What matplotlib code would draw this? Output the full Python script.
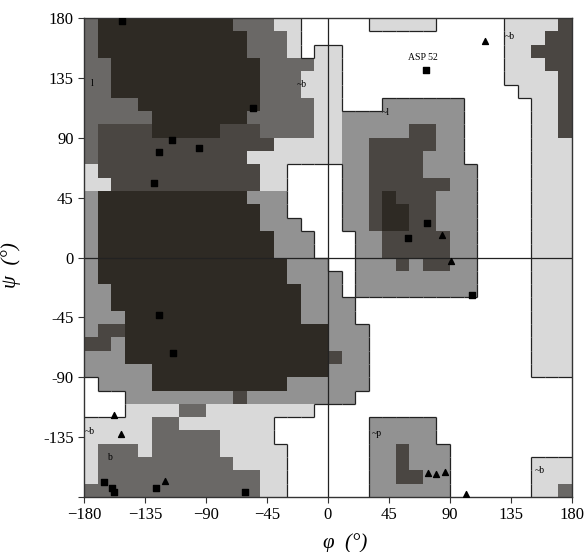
import numpy as np
import matplotlib
matplotlib.use('Agg')
import matplotlib.pyplot as plt
from matplotlib.colors import ListedColormap, BoundaryNorm
from matplotlib.collections import LineCollection

# region map as runs of (level, number of 10 degree cells) along phi = -180..180,
# one row per 10 degrees of psi, from psi=180 down to psi=-180
# levels: 0 white, 1 light, 2 medium, 3 dark grey, 4 darker, 5 core
region_runs = [
    [(3, 1), (5, 10), (3, 3), (1, 2), (0, 5), (1, 5), (0, 5), (1, 4), (4, 1)],
    [(3, 1), (5, 11), (3, 3), (1, 1), (0, 15), (1, 3), (4, 2)],
    [(3, 1), (5, 11), (3, 3), (1, 1), (0, 1), (1, 2), (0, 12), (1, 2), (4, 3)],
    [(3, 2), (5, 11), (3, 4), (1, 2), (0, 12), (1, 3), (4, 2)],
    [(3, 2), (5, 11), (3, 3), (1, 3), (0, 12), (1, 4), (4, 1)],
    [(3, 2), (5, 11), (3, 3), (1, 3), (0, 13), (1, 3), (4, 1)],
    [(3, 4), (5, 9), (3, 4), (1, 2), (0, 3), (2, 6), (0, 5), (1, 2), (4, 1)],
    [(3, 5), (5, 7), (3, 5), (1, 2), (2, 9), (0, 5), (1, 2), (4, 1)],
    [(3, 1), (4, 4), (5, 5), (4, 3), (3, 4), (1, 2), (2, 5), (4, 2), (2, 2), (0, 5), (1, 2), (4, 1)],
    [(3, 1), (4, 13), (1, 5), (2, 2), (4, 5), (2, 2), (0, 5), (1, 3)],
    [(3, 1), (4, 11), (1, 7), (2, 2), (4, 4), (2, 3), (0, 5), (1, 3)],
    [(1, 1), (4, 12), (1, 2), (0, 4), (2, 2), (4, 4), (2, 4), (0, 4), (1, 3)],
    [(1, 2), (4, 11), (1, 2), (0, 4), (2, 2), (4, 6), (2, 2), (0, 4), (1, 3)],
    [(2, 1), (5, 11), (2, 3), (0, 4), (2, 2), (4, 1), (5, 1), (4, 3), (2, 3), (0, 4), (1, 3)],
    [(2, 1), (5, 12), (2, 2), (0, 4), (2, 2), (4, 1), (5, 2), (4, 2), (2, 3), (0, 4), (1, 3)],
    [(2, 1), (5, 12), (2, 3), (0, 3), (2, 2), (4, 1), (5, 2), (4, 2), (2, 3), (0, 4), (1, 3)],
    [(2, 1), (5, 13), (2, 3), (0, 3), (2, 2), (4, 5), (2, 2), (0, 4), (1, 3)],
    [(2, 1), (5, 13), (2, 3), (0, 3), (2, 2), (4, 5), (2, 2), (0, 4), (1, 3)],
    [(2, 1), (5, 14), (2, 3), (0, 2), (2, 3), (4, 1), (2, 1), (4, 2), (2, 2), (0, 4), (1, 3)],
    [(2, 1), (5, 14), (2, 4), (0, 1), (2, 9), (0, 4), (1, 3)],
    [(2, 2), (5, 14), (2, 3), (0, 1), (2, 9), (0, 4), (1, 3)],
    [(2, 2), (5, 14), (2, 4), (0, 13), (1, 3)],
    [(2, 3), (5, 13), (2, 4), (0, 13), (1, 3)],
    [(2, 1), (4, 2), (5, 15), (2, 3), (0, 12), (1, 3)],
    [(4, 2), (2, 1), (5, 15), (2, 3), (0, 12), (1, 3)],
    [(2, 3), (5, 15), (4, 1), (2, 2), (0, 12), (1, 3)],
    [(2, 5), (5, 13), (2, 3), (0, 12), (1, 3)],
    [(0, 1), (2, 4), (5, 10), (2, 6), (0, 15)],
    [(0, 3), (2, 8), (4, 1), (2, 8), (0, 16)],
    [(0, 3), (1, 4), (3, 2), (1, 8), (0, 19)],
    [(1, 5), (3, 2), (1, 7), (0, 7), (2, 5), (0, 10)],
    [(1, 5), (3, 5), (1, 4), (0, 7), (2, 5), (0, 10)],
    [(1, 1), (3, 3), (1, 1), (3, 5), (1, 5), (0, 6), (2, 2), (4, 1), (2, 3), (0, 9)],
    [(1, 1), (3, 10), (1, 4), (0, 6), (2, 2), (4, 1), (2, 3), (0, 6), (1, 3)],
    [(1, 1), (3, 12), (1, 2), (0, 6), (2, 2), (4, 2), (2, 2), (0, 6), (1, 3)],
    [(3, 13), (1, 2), (0, 6), (2, 6), (0, 6), (1, 2), (3, 1)],
]
region_colors = ['#ffffff', '#d9d9d9', '#929292', '#6a6866', '#4a4642', '#2e2a24']

# residues (square = non-Gly, triangle = Gly)
sq_phi = [72, 106, -165, -159, -158, -127, -61, -128, -125, -115, -95, -55, -152, -125, -114, 59, 73]
sq_psi = [141, -28, -169, -173, -176, -173, -176, 56, 79, 88, 82, 112, 178, -43, -72, 15, 26]
tri_phi = [116, -158, -153, -120, 74, 80, 86, 102, 84, 91]
tri_psi = [163, -118, -133, -168, -162, -163, -161, -178, 17, -3]

label_text = ['~b', '~b', '~b', '~b', 'l', '~l', '~p', 'b']
label_phi = [134, -19, -176, 156, -174, 43, 36, -161]
label_psi = [166, 130, -131, -160, 131, 109, -132, -150]

ticks = [-180, -135, -90, -45, 0, 45, 90, 135, 180]

plt.rcParams['font.family'] = ['Liberation Serif', 'DejaVu Serif']

grid = np.array([np.repeat([v for v, n in row], [n for v, n in row]) for row in region_runs])
assert grid.shape == (36, 36)
phi_edges = np.arange(-180, 181, 10)
psi_edges = np.arange(180, -181, -10)

fig = plt.figure(figsize=(5.86, 5.52), dpi=100)
ax = fig.add_axes([0.1433, 0.0996, 0.8328, 0.8678])

cmap = ListedColormap(region_colors)
norm = BoundaryNorm(np.arange(-0.5, 6.5, 1), cmap.N)
ax.pcolormesh(phi_edges, psi_edges, grid, cmap=cmap, norm=norm)

# outline where allowed regions meet the white area
white = grid == 0
segs = []
for j in range(36):
    for i in range(35):
        if white[j, i] != white[j, i + 1]:
            x = phi_edges[i + 1]
            segs.append([(x, psi_edges[j]), (x, psi_edges[j + 1])])
for j in range(35):
    for i in range(36):
        if white[j, i] != white[j + 1, i]:
            y = psi_edges[j + 1]
            segs.append([(phi_edges[i], y), (phi_edges[i + 1], y)])
ax.add_collection(LineCollection(segs, colors='#222222', linewidths=0.9))

ax.axhline(0, color='#222222', lw=0.9)
ax.axvline(0, color='#222222', lw=0.9)

ax.scatter(sq_phi, sq_psi, marker='s', s=14, color='black', zorder=5)
ax.scatter(tri_phi, tri_psi, marker='^', s=18, color='black', zorder=5)
ax.text(70, 147, 'ASP 52', fontsize=7, ha='center', va='bottom')
for t, x, y in zip(label_text, label_phi, label_psi):
    ax.text(x, y, t, fontsize=7, ha='center', va='center')

ax.set_xlim(-180, 180)
ax.set_ylim(-180, 180)
ax.set_xticks(ticks)
ax.set_yticks(ticks)
ax.set_yticklabels([str(t) if t != -180 else '' for t in ticks])
ax.tick_params(direction='out', length=4, width=0.8, labelsize=12, color='#333333')
for s in ax.spines.values():
    s.set_linewidth(1.0)
    s.set_color('#333333')

ax.set_xlabel('φ  (°)', fontsize=15, fontstyle='italic')
ax.set_ylabel('ψ  (°)', fontsize=15, fontstyle='italic')
ax.xaxis.set_label_coords(0.535, -0.075)
ax.yaxis.set_label_coords(-0.13, 0.485)

fig.savefig('out.png', dpi=100)
